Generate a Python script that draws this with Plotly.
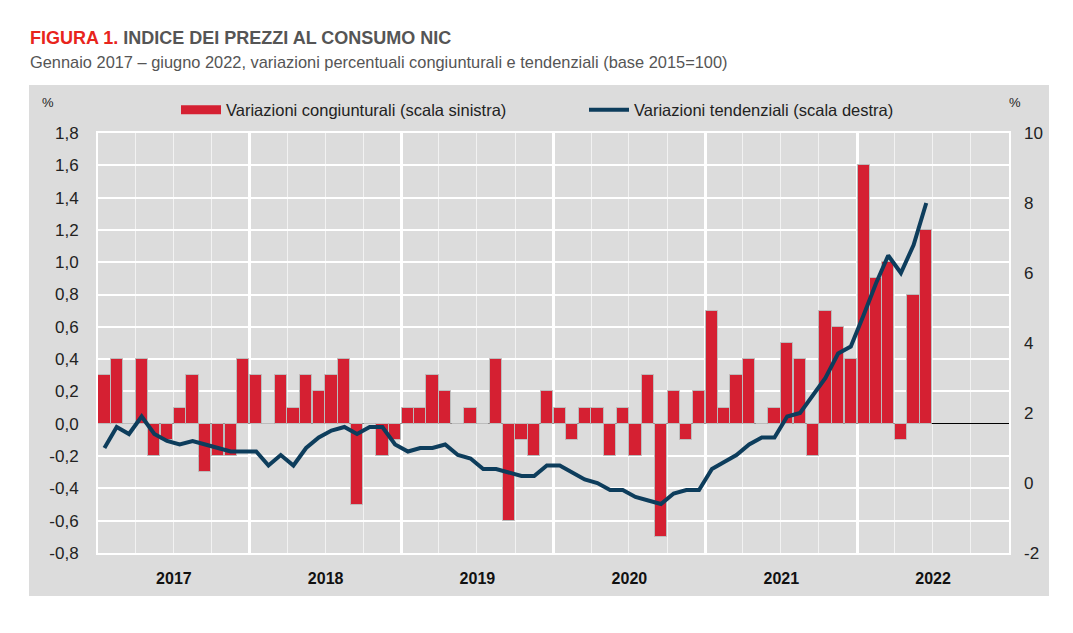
import plotly.graph_objects as go
import pandas as pd

W, H = 1073, 633
OFF = 8  # page body margin of the html file
# plot area in screen px: x 98..1009, y 133..553
L, T = 98 - OFF, 133 - OFF
R, B = W - (1009 - OFF), H - (553 - OFF)

FONT = "Liberation Sans, Arial, sans-serif"
RED = "#d52032"
NAVY = "#0d3d5c"

# monthly and yearly % changes, Jan 2017 - Jun 2022
cong_2017 = [0.3, 0.4, 0.0, 0.4, -0.2, -0.1, 0.1, 0.3, -0.3, -0.2, -0.2, 0.4]
cong_2018 = [0.3, 0.0, 0.3, 0.1, 0.3, 0.2, 0.3, 0.4, -0.5, 0.0, -0.2, -0.1]
cong_2019 = [0.1, 0.1, 0.3, 0.2, 0.0, 0.1, 0.0, 0.4, -0.6, -0.1, -0.2, 0.2]
cong_2020 = [0.1, -0.1, 0.1, 0.1, -0.2, 0.1, -0.2, 0.3, -0.7, 0.2, -0.1, 0.2]
cong_2021 = [0.7, 0.1, 0.3, 0.4, 0.0, 0.1, 0.5, 0.4, -0.2, 0.7, 0.6, 0.4]
cong_2022 = [1.6, 0.9, 1.0, -0.1, 0.8, 1.2]

tend_2017 = [1.0, 1.6, 1.4, 1.9, 1.4, 1.2, 1.1, 1.2, 1.1, 1.0, 0.9, 0.9]
tend_2018 = [0.9, 0.5, 0.8, 0.5, 1.0, 1.3, 1.5, 1.6, 1.4, 1.6, 1.6, 1.1]
tend_2019 = [0.9, 1.0, 1.0, 1.1, 0.8, 0.7, 0.4, 0.4, 0.3, 0.2, 0.2, 0.5]
tend_2020 = [0.5, 0.3, 0.1, 0.0, -0.2, -0.2, -0.4, -0.5, -0.6, -0.3, -0.2, -0.2]
tend_2021 = [0.4, 0.6, 0.8, 1.1, 1.3, 1.3, 1.9, 2.0, 2.5, 3.0, 3.7, 3.9]
tend_2022 = [4.8, 5.7, 6.5, 6.0, 6.8, 8.0]

congiunturali = cong_2017 + cong_2018 + cong_2019 + cong_2020 + cong_2021 + cong_2022
tendenziali = tend_2017 + tend_2018 + tend_2019 + tend_2020 + tend_2021 + tend_2022
months = pd.date_range("2017-01-01", periods=len(congiunturali), freq="MS")

left_ticks = [-0.8, -0.6, -0.4, -0.2, 0.0, 0.2, 0.4, 0.6, 0.8, 1.0, 1.2, 1.4, 1.6, 1.8]
left_labels = [f"{v:.1f}".replace(".", ",") for v in left_ticks]
right_ticks = [-2, 0, 2, 4, 6, 8, 10]
right_labels = [str(v) for v in right_ticks]


def py(px):
    # screen row -> paper y
    return (H - B - (px - OFF)) / (H - T - B)


def pxx(px):
    # screen column -> paper x
    return ((px - OFF) - L) / (W - L - R)


fig = go.Figure()

fig.add_trace(go.Bar(
    x=months, y=congiunturali,
    xperiod="M1", xperiodalignment="middle",
    marker=dict(color=RED, line=dict(color="#bcbcbc", width=1)),
    name="Variazioni congiunturali (scala sinistra)",
    showlegend=False,
))

# legend entry drawn as a wide red block, like the original
fig.add_trace(go.Scatter(
    x=[None], y=[None], mode="lines",
    line=dict(color=RED, width=9),
    name="Variazioni congiunturali (scala sinistra)",
))

fig.add_trace(go.Scatter(
    x=months, y=tendenziali, yaxis="y2",
    xperiod="M1", xperiodalignment="middle",
    mode="lines",
    line=dict(color=NAVY, width=4),
    name="Variazioni tendenziali (scala destra)",
))

fig.update_layout(
    width=W, height=H,
    margin=dict(l=L, r=R, t=T, b=B),
    paper_bgcolor="white",
    plot_bgcolor="#d7d7d7",
    bargap=0.0,
    font=dict(family=FONT, size=15, color="#222222"),
    showlegend=True,
    legend=dict(
        orientation="h", x=pxx(176), xanchor="left", y=py(110), yanchor="middle",
        bgcolor="rgba(0,0,0,0)", font=dict(size=16.5, color="#222222"),
        itemwidth=40, entrywidth=353, entrywidthmode="pixels",
        traceorder="normal",
    ),
    xaxis=dict(
        type="date",
        range=["2017-01-01", "2023-01-01"],
        dtick="M12", tick0="2017-01-01",
        tickformat="%Y", ticklabelmode="period",
        showgrid=True, gridcolor="white", gridwidth=2.5,
        minor=dict(dtick="M3", tick0="2017-01-01", showgrid=True,
                   gridcolor="#f2f2f2", gridwidth=1),
        ticks="", tickfont=dict(size=16, color="#111111", family=FONT, weight="bold"),
        ticklabelstandoff=10,
        showline=True, linecolor="white", linewidth=2, mirror=True,
        zeroline=False,
    ),
    yaxis=dict(
        range=[-0.8, 1.8], tickvals=left_ticks, ticktext=left_labels,
        showgrid=True, gridcolor="white", gridwidth=1.5,
        zeroline=True, zerolinecolor="black", zerolinewidth=1.2,
        ticks="", ticklabelstandoff=14,
        tickfont=dict(size=17, color="#222222"),
        showline=True, linecolor="white", linewidth=2, mirror=True,
    ),
    yaxis2=dict(
        range=[-2, 10], tickvals=right_ticks, ticktext=right_labels,
        overlaying="y", side="right",
        showgrid=False, zeroline=False, ticks="", ticklabelstandoff=14,
        tickfont=dict(size=17, color="#222222"),
    ),
    shapes=[
        dict(type="rect", xref="paper", yref="paper", layer="below",
             x0=pxx(29), x1=pxx(1049), y0=py(596), y1=py(85),
             fillcolor="#dcdcdc", line=dict(width=0)),
    ],
    annotations=[
        dict(xref="paper", yref="paper", x=pxx(28), y=py(38),
             xanchor="left", yanchor="middle", showarrow=False,
             text="<b><span style='color:#e8241c'>FIGURA 1.</span> INDICE DEI PREZZI AL CONSUMO NIC</b>",
             font=dict(size=18, color="#555555")),
        dict(xref="paper", yref="paper", x=pxx(28), y=py(62),
             xanchor="left", yanchor="middle", showarrow=False,
             text="Gennaio 2017 – giugno 2022, variazioni percentuali congiunturali e tendenziali (base 2015=100)",
             font=dict(size=16.4, color="#555555")),
        dict(xref="paper", yref="paper", x=pxx(48), y=py(102),
             xanchor="center", yanchor="middle", showarrow=False,
             text="%", font=dict(size=13, color="#222222")),
        dict(xref="paper", yref="paper", x=pxx(1015), y=py(102),
             xanchor="center", yanchor="middle", showarrow=False,
             text="%", font=dict(size=13, color="#222222")),
    ],
)

fig.write_html("out.html")
